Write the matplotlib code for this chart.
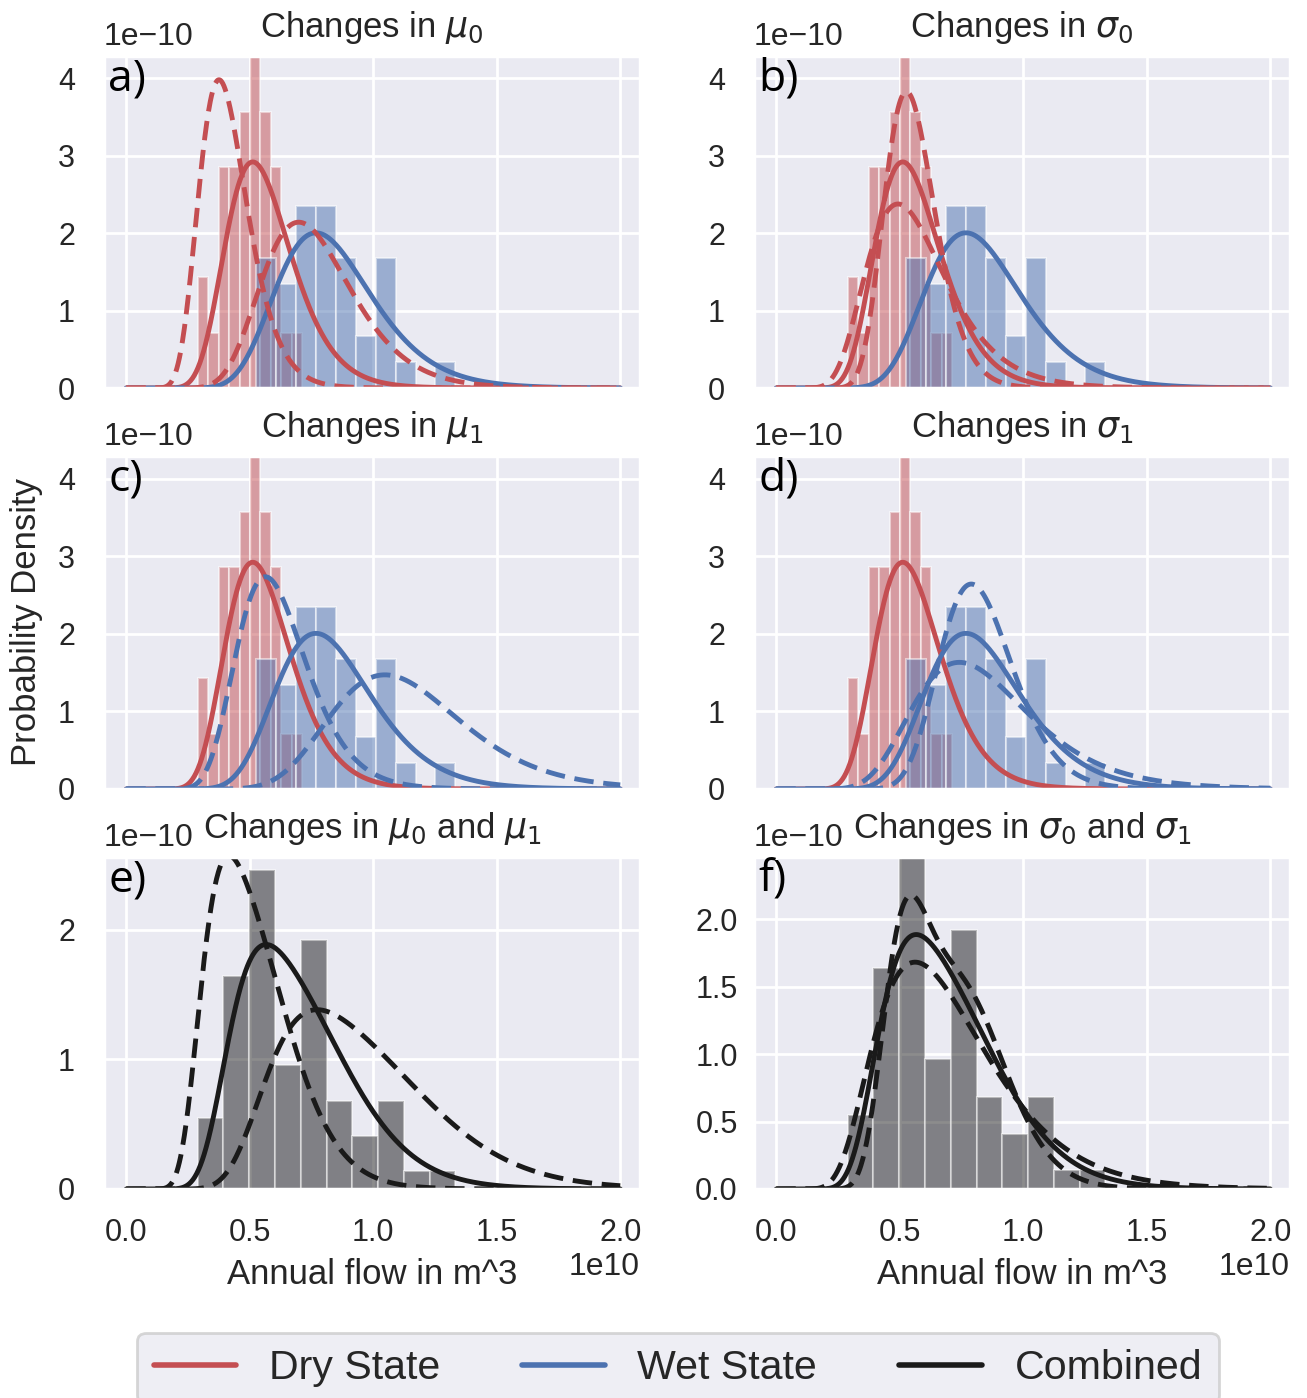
import numpy as np
import matplotlib
matplotlib.use('Agg')
import matplotlib.pyplot as plt
from matplotlib.lines import Line2D
import seaborn as sns

sns.set_theme(context='poster', style='darkgrid')
plt.rcParams['font.family'] = ['Liberation Sans', 'DejaVu Sans']
plt.rcParams['lines.linewidth'] = 3.5

# histogram bins (1e10 m^3) and densities (1e-10)
dry_edges = [0.289, 0.331, 0.374, 0.416, 0.459, 0.501, 0.543, 0.586, 0.628, 0.671, 0.713]
dry_density = [1.43, 0.71, 2.86, 2.86, 3.57, 4.29, 3.57, 2.86, 0.71, 0.71]
wet_edges = [0.527, 0.608, 0.688, 0.769, 0.849, 0.930, 1.011, 1.091, 1.172, 1.252, 1.333]
wet_density = [1.68, 1.34, 2.35, 2.35, 1.68, 0.67, 1.68, 0.34, 0.0, 0.34]
all_edges = [0.289, 0.393, 0.498, 0.602, 0.707, 0.811, 0.915, 1.020, 1.124, 1.229, 1.333]
all_density = [0.55, 1.64, 2.46, 0.96, 1.92, 0.68, 0.41, 0.68, 0.14, 0.14]

# lognormal parameters of the two states, ln(m^3)
mu0, sigma0 = 22.423, 0.258
mu1, sigma1 = 22.825, 0.251
p_dry = 0.53
mu0_changes = [22.113, 22.733]
mu1_changes = [22.515, 23.135]
sigma0_changes = [0.194, 0.323]
sigma1_changes = [0.188, 0.314]

RED = '#C44E52'
BLUE = '#4C72B0'
BLACK = '#1a1a1a'
DASH = (4, 2)

x = np.linspace(1e6, 2e10, 800)


def lognorm_pdf(x, mu, sigma):
    return np.exp(-(np.log(x) - mu) ** 2 / (2 * sigma ** 2)) / (x * sigma * np.sqrt(2 * np.pi))


def mixture(x, m0, s0, m1, s1):
    return p_dry * lognorm_pdf(x, m0, s0) + (1 - p_dry) * lognorm_pdf(x, m1, s1)


def hist(ax, edges, dens, color, alpha=0.5):
    edges = np.array(edges) * 1e10
    ax.bar(edges[:-1], np.array(dens) * 1e-10, width=np.diff(edges), align='edge',
           color=color, alpha=alpha, edgecolor='white', linewidth=1.5)


W, H = 1307, 1398
fig = plt.figure(figsize=(W / 100, H / 100), dpi=100)


def make_ax(left, top, right, bottom):
    return fig.add_axes([left / W, 1 - bottom / H, (right - left) / W, (bottom - top) / H])


cols = [(104, 640), (754, 1290)]
rows = [(56, 388), (456, 789), (857, 1189)]
axes = [[make_ax(c[0], r[0], c[1], r[1]) for c in cols] for r in rows]
(ax_a, ax_b), (ax_c, ax_d), (ax_e, ax_f) = axes

for ax in [ax_a, ax_b, ax_c, ax_d]:
    hist(ax, dry_edges, dry_density, RED)
    hist(ax, wet_edges, wet_density, BLUE)
    ax.plot(x, lognorm_pdf(x, mu0, sigma0), color=RED)
    ax.plot(x, lognorm_pdf(x, mu1, sigma1), color=BLUE)

for m in mu0_changes:
    ax_a.plot(x, lognorm_pdf(x, m, sigma0), color=RED, ls='--', dashes=DASH)
for s in sigma0_changes:
    ax_b.plot(x, lognorm_pdf(x, mu0, s), color=RED, ls='--', dashes=DASH)
for m in mu1_changes:
    ax_c.plot(x, lognorm_pdf(x, m, sigma1), color=BLUE, ls='--', dashes=DASH)
for s in sigma1_changes:
    ax_d.plot(x, lognorm_pdf(x, mu1, s), color=BLUE, ls='--', dashes=DASH)

for ax in [ax_e, ax_f]:
    hist(ax, all_edges, all_density, 'black', alpha=0.45)
    ax.plot(x, mixture(x, mu0, sigma0, mu1, sigma1), color=BLACK)
for m0, m1 in zip(mu0_changes, mu1_changes):
    ax_e.plot(x, mixture(x, m0, sigma0, m1, sigma1), color=BLACK, ls='--', dashes=DASH)
for s0, s1 in zip(sigma0_changes, sigma1_changes):
    ax_f.plot(x, mixture(x, mu0, s0, mu1, s1), color=BLACK, ls='--', dashes=DASH)

titles = [r'Changes in $\mu_0$', r'Changes in $\sigma_0$',
          r'Changes in $\mu_1$', r'Changes in $\sigma_1$',
          r'Changes in $\mu_0$ and $\mu_1$', r'Changes in $\sigma_0$ and $\sigma_1$']
letters = ['a)', 'b)', 'c)', 'd)', 'e)', 'f)']
ytops = [4.29, 4.29, 4.29, 4.29, 2.56, 2.46]
yticks = [[0, 1, 2, 3, 4]] * 4 + [[0, 1, 2], [0, 0.5, 1.0, 1.5, 2.0]]

for i, ax in enumerate([ax_a, ax_b, ax_c, ax_d, ax_e, ax_f]):
    ax.set_xlim(-0.09e10, 2.08e10)
    ax.set_ylim(0, ytops[i] * 1e-10)
    ax.set_xticks(np.array([0, 0.5, 1.0, 1.5, 2.0]) * 1e10)
    ax.set_yticks(np.array(yticks[i]) * 1e-10)
    ax.tick_params(axis='both', length=0, labelsize=22)
    ax.tick_params(axis='x', pad=21)
    ax.tick_params(axis='y', pad=27)
    plt.setp(ax.get_yticklabels(), ha='center')
    ax.yaxis.offsetText.set_fontsize(23)
    ax.yaxis.OFFSETTEXTPAD = 8
    ax.set_title(titles[i], fontsize=25, pad=14)
    ax.text(0.008, 0.998, letters[i], transform=ax.transAxes, ha='left', va='top',
            fontsize=32, family=['Open Sans', 'DejaVu Sans'], color='black')
    if i < 4:
        ax.tick_params(axis='x', labelbottom=False)
        ax.xaxis.offsetText.set_visible(False)
    else:
        ax.set_xlabel('Annual flow in m^3', fontsize=25, labelpad=7)
        ax.xaxis.offsetText.set_fontsize(23)

fig.text(27 / W, 1 - 622 / H, 'Probability Density', rotation=90,
         ha='center', va='center', fontsize=25)

handles = [Line2D([], [], color=RED, lw=4), Line2D([], [], color=BLUE, lw=4),
           Line2D([], [], color=BLACK, lw=4)]
fig.legend(handles, ['Dry State', 'Wet State', 'Combined'], loc='center',
           bbox_to_anchor=(678 / W, 1 - 1368 / H), ncol=3, fontsize=29.6, frameon=True)

fig.savefig('out.png', dpi=100)
